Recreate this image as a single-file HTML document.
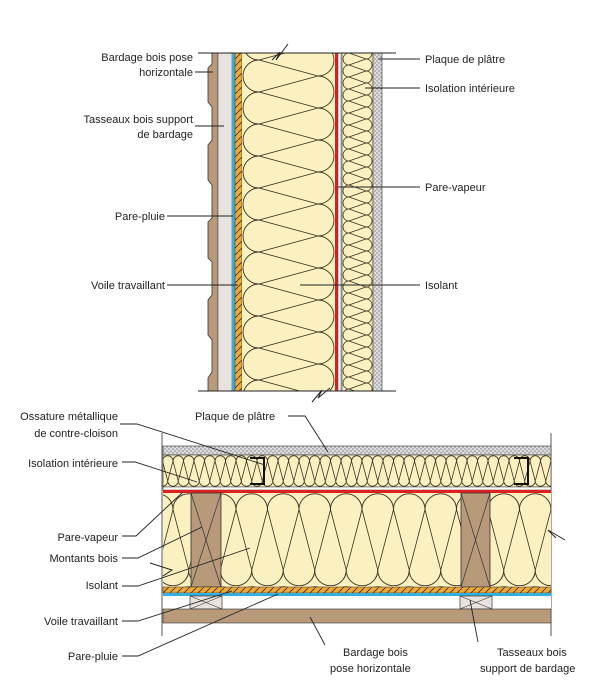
<!DOCTYPE html>
<html><head><meta charset="utf-8"><style>
body{margin:0;background:#fff}
svg{display:block}
text{font-family:"Liberation Sans",Arial,sans-serif;font-size:11px;fill:#222}
</style></head><body>
<svg width="611" height="688" viewBox="0 0 611 688" xmlns="http://www.w3.org/2000/svg">
<defs>
<pattern id="insV" x="242" y="60" width="93" height="32" patternUnits="userSpaceOnUse">
<rect width="93" height="32" fill="#fbf0c0"/>
<g fill="none" stroke="#3a3020" stroke-width="0.9">
<path d="M17,0 A16,16 0 0 0 17,32"/>
<path d="M76,-16 A16,16 0 0 1 76,16 M76,16 A16,16 0 0 1 76,48"/>
<path d="M17,0 L76,16 M17,32 L76,16 M17,0 L76,-16 M17,32 L76,48"/>
</g></pattern>
<pattern id="insH" width="93" height="31.5" patternUnits="userSpaceOnUse" patternTransform="translate(551,493) rotate(90)">
<rect width="93" height="31.5" fill="#fbf0c0"/>
<g fill="none" stroke="#3a3020" stroke-width="0.9">
<path d="M16.5,0 A15.75,15.75 0 0 0 16.5,31.5"/>
<path d="M77,-15.75 A15.75,15.75 0 0 1 77,15.75 M77,15.75 A15.75,15.75 0 0 1 77,47.25"/>
<path d="M16.5,0 L77,15.75 M16.5,31.5 L77,15.75 M16.5,0 L77,-15.75 M16.5,31.5 L77,47.25"/>
</g></pattern>
<pattern id="insSV" x="342" y="53" width="31" height="12" patternUnits="userSpaceOnUse">
<rect width="31" height="12" fill="#fbf0c0"/>
<g fill="none" stroke="#3a3020" stroke-width="0.8">
<path d="M7,0 A6,6 0 0 0 7,12 M24,-6 A6,6 0 0 1 24,6 M24,6 A6,6 0 0 1 24,18"/>
<path d="M7,0 L24,6 M7,12 L24,6 M7,0 L24,-6 M7,12 L24,18"/>
</g></pattern>
<pattern id="insSH" width="32" height="10.5" patternUnits="userSpaceOnUse" patternTransform="translate(551,455) rotate(90)">
<rect width="32" height="10.5" fill="#fbf0c0"/>
<g fill="none" stroke="#3a3020" stroke-width="0.8">
<path d="M6,0 A5.25,5.25 0 0 0 6,10.5 M26,-5.25 A5.25,5.25 0 0 1 26,5.25 M26,5.25 A5.25,5.25 0 0 1 26,15.75"/>
<path d="M6,0 L26,5.25 M6,10.5 L26,5.25 M6,0 L26,-5.25 M6,10.5 L26,15.75"/>
</g></pattern>
<pattern id="dots" width="4" height="4" patternUnits="userSpaceOnUse">
<rect width="4" height="4" fill="#dcdcdc"/><circle cx="1" cy="1" r="0.6" fill="#555"/><circle cx="3" cy="3" r="0.6" fill="#555"/>
</pattern>
<pattern id="hatchV" width="7" height="7" patternUnits="userSpaceOnUse">
<rect width="7" height="7" fill="#f0a830"/><path d="M0,7 L7,0" stroke="#333" stroke-width="0.8"/>
</pattern>
</defs>

<!-- TOP SECTION -->
<path d="M212,53 L218,53 L218,391 L208,391 L208,378 L212,372 L212,340 L208,335 L208,300 L212,295 L212,262 L208,258 L208,222 L212,218 L212,185 L208,180 L208,145 L212,140 L212,107 L208,102 L208,68 L212,64 Z" fill="#b89a7a" stroke="#333" stroke-width="0.8"/>
<rect x="218" y="53" width="14" height="338" fill="#e8e3de" stroke="#555" stroke-width="0.6"/>
<rect x="232" y="53" width="3" height="338" fill="#35aee0"/>
<rect x="235" y="53" width="7" height="338" fill="url(#hatchV)" stroke="#333" stroke-width="0.5"/>
<rect x="242" y="53" width="93" height="338" fill="url(#insV)"/>
<rect x="335" y="53" width="3" height="338" fill="#e02020"/>
<rect x="338" y="53" width="3" height="338" fill="#fff" stroke="#333" stroke-width="0.5"/>
<rect x="342" y="53" width="31" height="338" fill="url(#insSV)" stroke="#333" stroke-width="0.6"/>
<rect x="373" y="53" width="9" height="338" fill="url(#dots)" stroke="#333" stroke-width="0.6"/>
<line x1="198" y1="53" x2="396" y2="53" stroke="#222"/>
<line x1="198" y1="391" x2="396" y2="391" stroke="#222"/>
<path d="M272,60 L280,52 L276,60 L288,44" fill="none" stroke="#222"/>
<path d="M312,402 L322,390 L318,398 L330,388" fill="none" stroke="#222"/>

<!-- top labels -->
<g text-anchor="end">
<text x="193" y="61">Bardage bois pose</text><text x="193" y="76">horizontale</text>
<text x="193" y="123">Tasseaux bois support</text><text x="193" y="138">de bardage</text>
<text x="165" y="220">Pare-pluie</text>
<text x="165" y="289">Voile travaillant</text>
</g>
<g stroke="#222" stroke-width="0.9">
<line x1="195" y1="72" x2="213" y2="72"/>
<line x1="195" y1="126" x2="224" y2="126"/>
<line x1="167" y1="216" x2="233" y2="216"/>
<line x1="167" y1="285" x2="238" y2="285"/>
<line x1="378" y1="59" x2="420" y2="59"/>
<line x1="365" y1="88" x2="420" y2="88"/>
<line x1="338" y1="187" x2="420" y2="187"/>
<line x1="300" y1="285" x2="420" y2="285"/>
</g>
<text x="425" y="63">Plaque de plâtre</text>
<text x="425" y="92">Isolation intérieure</text>
<text x="425" y="191">Pare-vapeur</text>
<text x="425" y="289">Isolant</text>

<!-- BOTTOM SECTION -->
<line x1="162" y1="433" x2="162" y2="636" stroke="#555"/>
<line x1="551" y1="433" x2="551" y2="636" stroke="#555"/>
<rect x="163" y="446" width="388" height="9" fill="url(#dots)" stroke="#333" stroke-width="0.6"/>
<rect x="163" y="455" width="388" height="32" fill="url(#insSH)" stroke="#333" stroke-width="0.6"/>
<path d="M250,458 L264,458 L264,484 L250,484 M514,458 L528,458 L528,484 L514,484" fill="none" stroke="#111" stroke-width="2"/>
<rect x="163" y="487" width="388" height="3" fill="#fff" stroke="#333" stroke-width="0.5"/>
<rect x="163" y="490" width="388" height="3" fill="#e02020"/>
<rect x="163" y="493" width="388" height="94" fill="url(#insH)"/>
<rect x="191" y="493" width="30" height="94" fill="#b89a7a" stroke="#333" stroke-width="0.8"/>
<path d="M191,493 L221,587 M221,493 L191,587" stroke="#333" stroke-width="0.7"/>
<rect x="461" y="493" width="29" height="94" fill="#b89a7a" stroke="#333" stroke-width="0.8"/>
<path d="M461,493 L490,587 M490,493 L461,587" stroke="#333" stroke-width="0.7"/>
<rect x="163" y="587" width="388" height="6" fill="url(#hatchV)" stroke="#333" stroke-width="0.5"/>
<rect x="163" y="593" width="388" height="3" fill="#35aee0"/>
<rect x="163" y="596" width="388" height="13" fill="#fff"/>
<rect x="190" y="596" width="32" height="13" fill="#e8e3de" stroke="#333" stroke-width="0.7"/>
<path d="M190,596 L222,609 M222,596 L190,609" stroke="#333" stroke-width="0.6"/>
<rect x="460" y="596" width="32" height="13" fill="#e8e3de" stroke="#333" stroke-width="0.7"/>
<path d="M460,596 L492,609 M492,596 L460,609" stroke="#333" stroke-width="0.6"/>
<rect x="163" y="609" width="388" height="14" fill="#b89a7a" stroke="#333" stroke-width="0.6"/>
<path d="M150,563 L172,570 L163,576" fill="none" stroke="#222"/>
<path d="M565,540 L548,530 L556,538" fill="none" stroke="#222"/>

<!-- bottom labels -->
<g text-anchor="end">
<text x="118" y="420">Ossature métallique</text><text x="118" y="437">de contre-cloison</text>
<text x="118" y="467">Isolation intérieure</text>
<text x="118" y="541">Pare-vapeur</text>
<text x="118" y="562">Montants bois</text>
<text x="118" y="589">Isolant</text>
<text x="118" y="625">Voile travaillant</text>
<text x="118" y="660">Pare-pluie</text>
</g>
<text x="195" y="420">Plaque de plâtre</text>
<text x="343" y="656">Bardage bois</text><text x="330" y="672">pose horizontale</text>
<text x="497" y="656">Tasseaux bois</text><text x="480" y="672">support de bardage</text>
<g stroke="#222" stroke-width="0.9" fill="none">
<path d="M120,424 L137,424 L265,465"/>
<path d="M288,416 L305,416 L328,452"/>
<path d="M122,462 L135,462 L197,482"/>
<path d="M122,536 L136,536 L183,492"/>
<path d="M122,558 L138,558 L202,527"/>
<path d="M122,586 L138,586 L250,548"/>
<path d="M122,621 L138,621 L232,591"/>
<path d="M122,656 L138,656 L278,594"/>
<path d="M310,617 L325,645"/>
<path d="M470,600 L478,642"/>
</g>
</svg>
</body></html>
